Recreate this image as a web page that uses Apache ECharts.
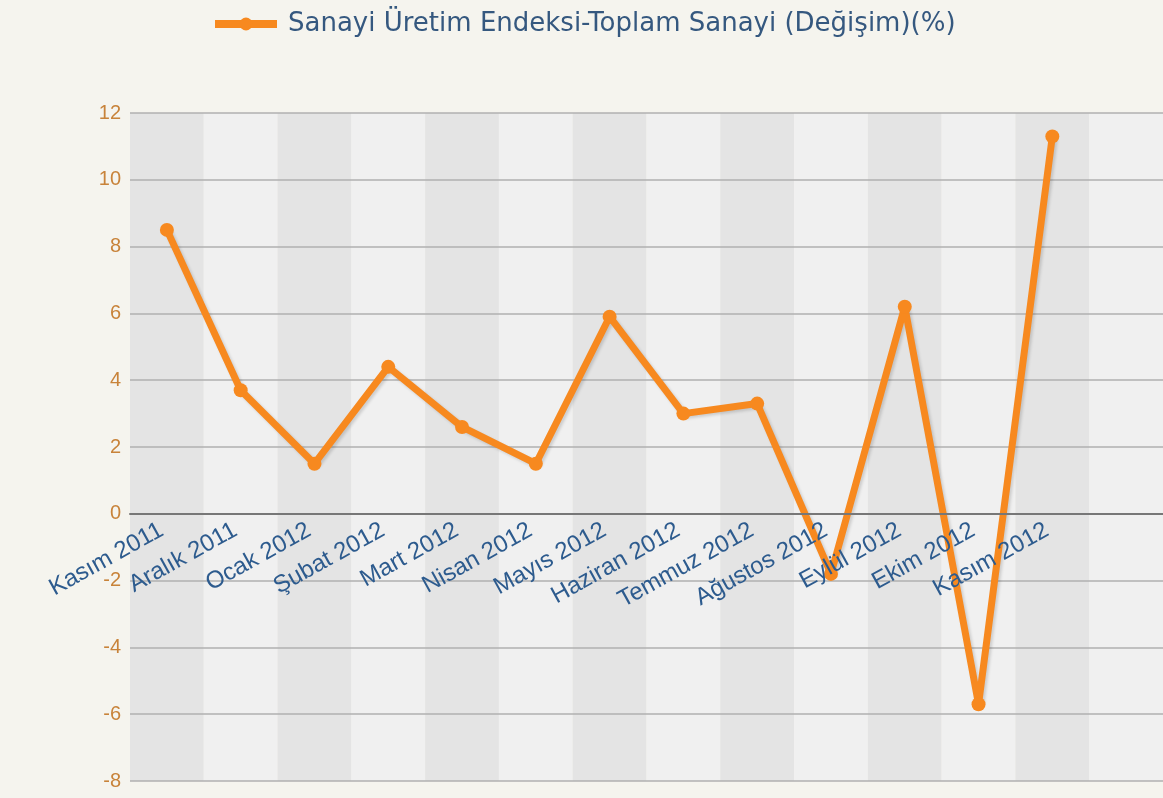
<!DOCTYPE html>
<html>
<head>
<meta charset="utf-8">
<script src="https://cdn.jsdelivr.net/npm/echarts@6/dist/echarts.min.js"></script>
<style>
html,body{margin:0;padding:0;background:#f5f4ee;}
#c{width:1163px;height:798px;}
</style>
</head>
<body>
<div id="c"></div>
<script>
const seriesName = 'Sanayi Üretim Endeksi-Toplam Sanayi (Değişim)(%)';
const categories = ['Kasım 2011','Aralık 2011','Ocak 2012','Şubat 2012','Mart 2012','Nisan 2012','Mayıs 2012','Haziran 2012','Temmuz 2012','Ağustos 2012','Eylül 2012','Ekim 2012','Kasım 2012'];
const values = [8.5, 3.7, 1.5, 4.4, 2.6, 1.5, 5.9, 3.0, 3.3, -1.8, 6.2, -5.7, 11.3];
const yMin = -8, yMax = 12, yStep = 2;

const chart = echarts.init(document.getElementById('c'));
const gridTop = 113, gridH = 668;
const zeroH = gridH * (yMax - 0) / (yMax - yMin);
chart.setOption({
  backgroundColor: '#f5f4ee',
  animation: false,
  legend: {
    top: 6, left: 206,
    itemWidth: 62, itemHeight: 16, itemGap: 10,
    lineStyle: {width: 8},
    textStyle: {color: '#35587f', fontSize: 26, fontFamily: 'DejaVu Sans', padding: [0, 0, 0, 6]},
    data: [seriesName]
  },
  grid: [
    {left: 130, right: 0, top: gridTop, height: gridH, containLabel: false, outerBoundsMode: 'none'},
    {left: 130, right: 0, top: gridTop, height: zeroH, containLabel: false, outerBoundsMode: 'none'}
  ],
  xAxis: [{
    type: 'category',
    gridIndex: 0,
    data: categories,
    max: categories.length,
    boundaryGap: true,
    axisLine: {show: false},
    axisTick: {show: false},
    axisLabel: {show: false, interval: 0},
    splitArea: {show: true, interval: 0, areaStyle: {color: ['#e4e4e4', '#f0f0f0']}},
    z: 0
  }, {
    type: 'category',
    gridIndex: 1,
    position: 'bottom',
    data: categories,
    max: categories.length,
    boundaryGap: true,
    axisLine: {onZero: false, lineStyle: {color: '#777', width: 2}},
    axisTick: {show: false},
    axisLabel: {rotate: 29, margin: 12, padding: [0, 6, 0, 0], color: '#2d5b8e', fontSize: 24, fontFamily: 'Liberation Sans', interval: 0},
    splitArea: {show: false},
    splitLine: {show: false},
    z: 5
  }],
  yAxis: [{
    type: 'value', gridIndex: 0, min: yMin, max: yMax, interval: yStep,
    axisLine: {show: false}, axisTick: {show: false},
    axisLabel: {margin: 9, color: '#c8833a', fontSize: 20, fontFamily: 'Liberation Sans'},
    splitLine: {lineStyle: {color: '#b0b0b0', width: 1.5}},
    z: 1
  }, {
    type: 'value', gridIndex: 1, min: 0, max: yMax, show: false
  }],
  series: [{
    name: seriesName,
    type: 'line',
    xAxisIndex: 0,
    yAxisIndex: 0,
    data: values,
    symbol: 'circle',
    symbolSize: 14,
    z: 2,
    lineStyle: {color: '#f7891f', width: 7, shadowColor: 'rgba(0,0,0,0.15)', shadowBlur: 3, shadowOffsetX: 2, shadowOffsetY: 2},
    itemStyle: {color: '#f7891f'}
  }]
});
</script>
</body>
</html>
